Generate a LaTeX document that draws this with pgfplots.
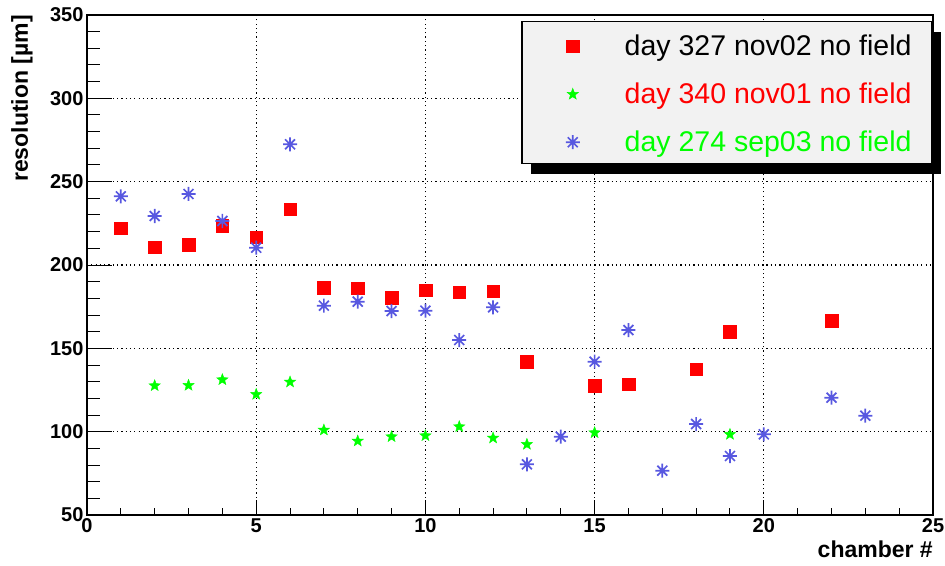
\documentclass[border=0pt]{standalone}
\usepackage{pgfplots}
\pgfplotsset{compat=1.18}
\usepackage{fontspec}
\setmainfont{Liberation Sans}
\usetikzlibrary{shadows}
\definecolor{rblue}{RGB}{88,88,224}
\definecolor{legendgray}{RGB}{242,242,242}
\pgfdeclareplotmark{fstar}{%
  \pgfpathmoveto{\pgfpointpolar{90}{\pgfplotmarksize}}%
  \pgfpathlineto{\pgfpointpolar{126}{0.42\pgfplotmarksize}}%
  \pgfpathlineto{\pgfpointpolar{162}{\pgfplotmarksize}}%
  \pgfpathlineto{\pgfpointpolar{198}{0.42\pgfplotmarksize}}%
  \pgfpathlineto{\pgfpointpolar{234}{\pgfplotmarksize}}%
  \pgfpathlineto{\pgfpointpolar{270}{0.42\pgfplotmarksize}}%
  \pgfpathlineto{\pgfpointpolar{306}{\pgfplotmarksize}}%
  \pgfpathlineto{\pgfpointpolar{342}{0.42\pgfplotmarksize}}%
  \pgfpathlineto{\pgfpointpolar{18}{\pgfplotmarksize}}%
  \pgfpathlineto{\pgfpointpolar{54}{0.42\pgfplotmarksize}}%
  \pgfpathclose
  \pgfusepathqfillstroke}
\pgfdeclareplotmark{ast8}{%
  \pgfpathmoveto{\pgfqpoint{-\pgfplotmarksize}{0pt}}\pgfpathlineto{\pgfqpoint{\pgfplotmarksize}{0pt}}%
  \pgfpathmoveto{\pgfqpoint{0pt}{-\pgfplotmarksize}}\pgfpathlineto{\pgfqpoint{0pt}{\pgfplotmarksize}}%
  \pgfpathmoveto{\pgfpointpolar{45}{\pgfplotmarksize}}\pgfpathlineto{\pgfpointpolar{225}{\pgfplotmarksize}}%
  \pgfpathmoveto{\pgfpointpolar{135}{\pgfplotmarksize}}\pgfpathlineto{\pgfpointpolar{315}{\pgfplotmarksize}}%
  \pgfusepathqstroke}
\pgfplotsset{myleg/.style={legend image code/.code={%
  \pgfpathmoveto{\pgfqpoint{-30.5pt}{0pt}}\pgfpathlineto{\pgfqpoint{7pt}{0pt}}\pgfusepath{}%
  \draw[##1] plot coordinates {(0pt,9pt)};}}}
\begin{document}
\begin{tikzpicture}
\useasboundingbox (-87pt,-50pt) rectangle (858pt,515pt);
\begin{axis}[
  scale only axis, width=846pt, height=500pt,
  xmin=0, xmax=25, ymin=50, ymax=350,
  xtick={0,5,...,25}, ytick={50,100,...,350},
  minor x tick num=4, minor y tick num=4,
  tick align=inside, tick pos=left,
  xtick style={/pgfplots/major tick length=15pt,/pgfplots/minor tick length=7pt},
  ytick style={/pgfplots/major tick length=25pt,/pgfplots/minor tick length=13pt},
  tick style={black, line width=1pt},
  axis line style={line width=1.2pt},
  grid=major,
  major grid style={black, line width=1.2pt, dash pattern=on 1.2pt off 3.1pt},
  /pgf/number format/assume math mode=true,
  ticklabel style={font=\fontsize{20}{20}\selectfont\bfseries},
  xlabel={chamber \#},
  xlabel style={at={(axis description cs:1,-0.084)}, anchor=base east, inner sep=0pt, font=\fontsize{23}{23}\selectfont\bfseries},
  ylabel={resolution [µm]},
  ylabel style={at={(axis description cs:-0.077,1)}, anchor=east, inner sep=0pt, font=\fontsize{23}{23}\selectfont\bfseries},
  legend cell align=left,
  legend style={at={(0.513,0.988)}, anchor=north west, fill=legendgray, draw=black, line width=1.5pt,
    inner xsep=20.5pt, inner ysep=12.5pt, column sep=45pt, row sep=27pt,
    nodes={inner sep=0pt, text height=21pt, text depth=0pt, font=\fontsize{28.5}{30}\selectfont, anchor=base},
    drop shadow={shadow xshift=9pt, shadow yshift=-10pt, fill=black, opacity=1}},
]
\addplot[only marks, myleg, mark=square*, mark size=6.3pt, mark options={draw=red, fill=red, line width=0.4pt}] coordinates {
(1,222) (2,210.8) (3,212.2) (4,223.4) (5,216.6) (6,233.4) (7,186.4) (8,186) (9,180.4) (10,184.8)
(11,183.6) (12,184.2) (13,142) (15,127.6) (16,128.6) (18,137.4) (19,160) (22,166.6)};
\addlegendentry{day 327 nov02 no field}
\addplot[only marks, myleg, mark=fstar, mark size=6pt, mark options={draw=green, fill=green, line width=0.4pt}] coordinates {
(2,127.6) (3,127.8) (4,131.2) (5,122.4) (6,129.8) (7,101) (8,94.4) (9,97) (10,97.6) (11,103)
(12,96.2) (13,92.4) (15,99.4) (19,98.4)};
\addlegendentry{\textcolor{red}{day 340 nov01 no field}}
\addplot[only marks, myleg, mark=ast8, mark size=7pt, mark options={draw=rblue, line width=1.7pt}] coordinates {
(1,241.2) (2,229.4) (3,242.6) (4,226.4) (5,210.4) (6,272.4) (7,175.6) (8,178) (9,172.4) (10,172.6)
(11,155) (12,174.6) (13,80.4) (14,97) (15,142) (16,161) (17,76.6) (18,104.6) (19,85.4) (20,98.4)
(22,120.4) (23,109.6)};
\addlegendentry{\textcolor{green}{day 274 sep03 no field}}
\end{axis}
\end{tikzpicture}
\end{document}
